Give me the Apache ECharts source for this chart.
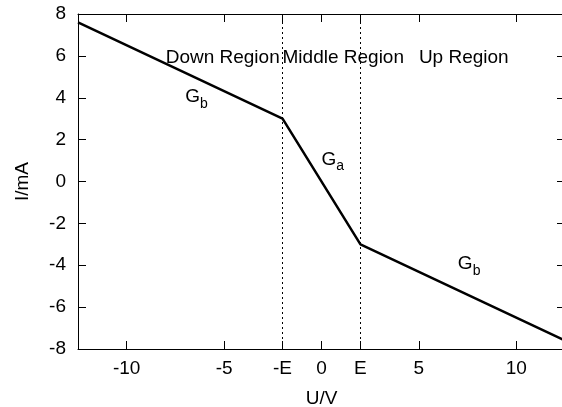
<!DOCTYPE html>
<html>
<head>
<meta charset="utf-8">
<script src="https://cdn.jsdelivr.net/npm/echarts@6/dist/echarts.min.js"></script>
<style>
  html, body { margin: 0; padding: 0; background: #fff; }
  #chart { width: 562px; height: 407px; }
</style>
</head>
<body>
<div id="chart"></div>
<script>
// Piecewise-linear I-U characteristic (breakpoints at U = -E and U = E, E = 2 V)
const uValues = [-12.5, -2, 2, 12.5];
const iValues = [7.6, 3, -3, -7.6];

// Region boundaries (dotted verticals)
const boundaryU = [-2, 2];

// Custom x tick positions and their texts
const xTickValues = [-10, -5, -2, 0, 2, 5, 10];
const xTickTexts = ['-10', '-5', '-E', '0', 'E', '5', '10'];

// Region captions (left-aligned at the given point)
const regionNames = ['Down Region', 'Middle Region', 'Up Region'];
const regionU = [-8, -2, 5];
const regionI = [6, 6, 6];

// Conductance captions G_sub
const condSubs = ['b', 'a', 'b'];
const condU = [-7, 0, 7];
const condI = [4, 1, -4];

const FONT = 'Liberation Sans, Arial, Helvetica, sans-serif';
const FS = 19;

const lineData = uValues.map((u, k) => [u, iValues[k]]);
const regionData = regionNames.map((n, k) => ({ value: [regionU[k], regionI[k]], name: n }));
const condData = condSubs.map((s, k) => ({ value: [condU[k], condI[k]], name: s }));

const axisCommon = {
  type: 'value',
  splitLine: { show: false },
  axisLine: { show: true, onZero: false, lineStyle: { color: '#000', width: 1 } },
  axisTick: { show: true, inside: true, length: 8, lineStyle: { color: '#000', width: 1 } }
};

const chart = echarts.init(document.getElementById('chart'), null, { renderer: 'canvas' });
chart.setOption({
  backgroundColor: '#fff',
  animation: false,
  grid: { left: 78, right: -3, top: 14, bottom: 58, containLabel: false, outerBoundsMode: 'none' },
  xAxis: [
    Object.assign({}, axisCommon, {
      position: 'bottom',
      min: -12.5, max: 12.5,
      name: 'U/V', nameLocation: 'middle', nameGap: 40,
      nameTextStyle: { color: '#000', fontSize: FS, fontFamily: FONT },
      axisTick: Object.assign({}, axisCommon.axisTick, { customValues: xTickValues }),
      axisLabel: {
        customValues: xTickValues,
        color: '#000', fontSize: FS, fontFamily: FONT, margin: 10,
        formatter: v => xTickTexts[xTickValues.indexOf(v)]
      }
    }),
    Object.assign({}, axisCommon, {
      position: 'top',
      min: -12.5, max: 12.5,
      axisTick: Object.assign({}, axisCommon.axisTick, { customValues: xTickValues }),
      axisLabel: { show: false }
    })
  ],
  yAxis: [
    Object.assign({}, axisCommon, {
      position: 'left',
      min: -8, max: 8, interval: 2,
      name: 'I/mA', nameLocation: 'middle', nameGap: 46,
      nameTextStyle: { color: '#000', fontSize: FS, fontFamily: FONT },
      axisLabel: { color: '#000', fontSize: FS, fontFamily: FONT, margin: 12 }
    }),
    Object.assign({}, axisCommon, {
      position: 'right',
      min: -8, max: 8, interval: 2,
      axisLabel: { show: false }
    })
  ],
  series: [
    {
      type: 'line',
      data: lineData,
      symbol: 'none',
      lineStyle: { color: '#000', width: 2.5 },
      markLine: {
        silent: true,
        symbol: 'none',
        label: { show: false },
        lineStyle: { color: '#000', width: 1, type: [2, 3] },
        data: boundaryU.map(u => ({ xAxis: u }))
      },
      z: 3
    },
    {
      type: 'scatter',
      data: regionData,
      symbolSize: 0,
      silent: true,
      itemStyle: { opacity: 1, color: '#000' },
      label: {
        show: true, position: 'right', distance: 0, offset: [0, 2],
        formatter: p => p.name,
        color: '#000', fontSize: FS, fontFamily: FONT
      }
    },
    {
      type: 'scatter',
      data: condData,
      symbolSize: 0,
      silent: true,
      itemStyle: { opacity: 1, color: '#000' },
      label: {
        show: true, position: 'right', distance: 0, offset: [0, -1],
        formatter: p => '{m|G}{s|' + p.name + '}',
        rich: {
          m: { color: '#000', fontSize: FS, fontFamily: FONT },
          s: { color: '#000', fontSize: 14, fontFamily: FONT, padding: [14, 0, 0, 0] }
        }
      }
    }
  ]
});
</script>
</body>
</html>
